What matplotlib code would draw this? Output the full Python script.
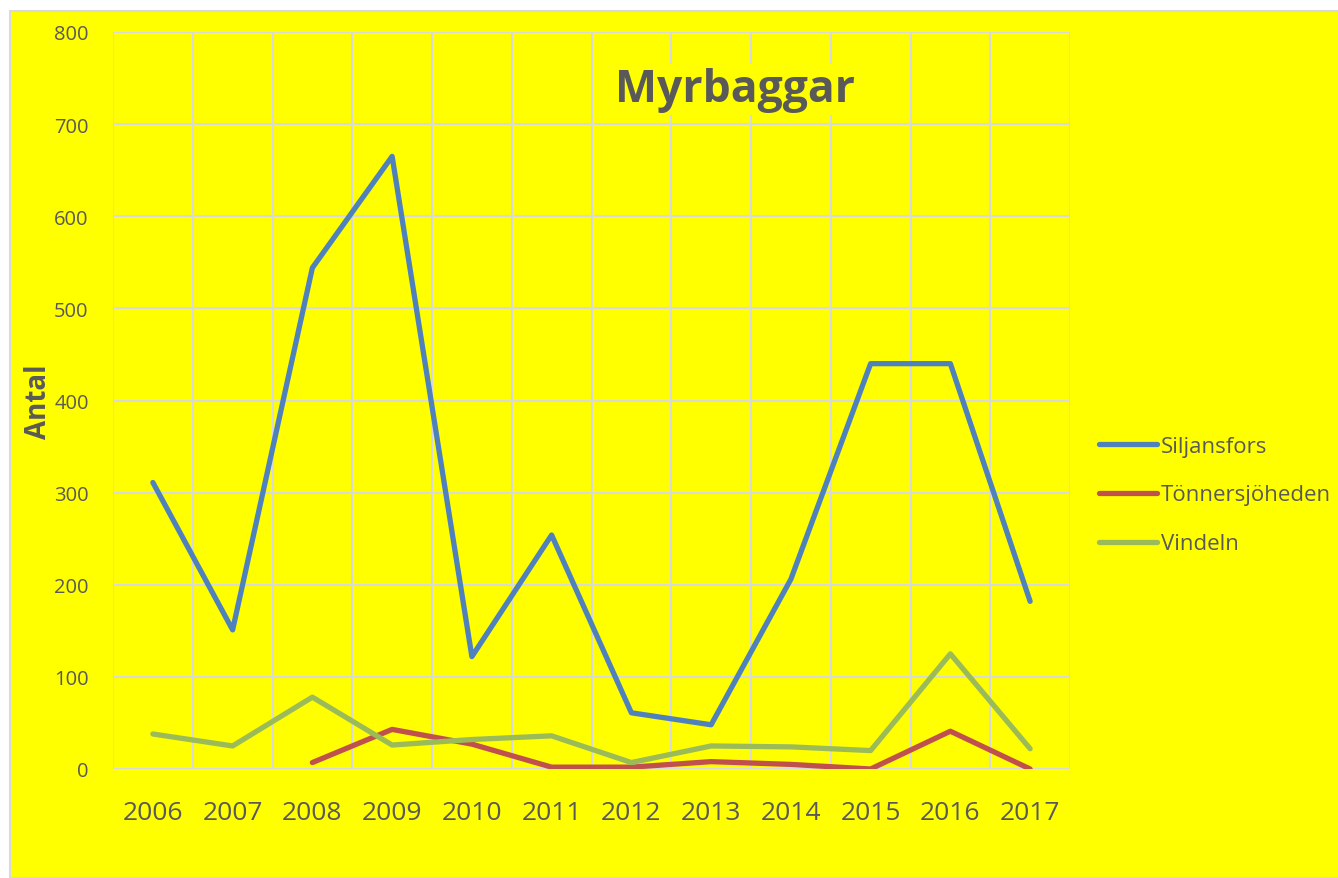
import numpy as np
import matplotlib.pyplot as plt
from matplotlib.patches import Rectangle
from matplotlib.ticker import MultipleLocator, FixedLocator

# Data
years = ["2006", "2007", "2008", "2009", "2010", "2011",
         "2012", "2013", "2014", "2015", "2016", "2017"]
siljansfors = [311, 151, 544, 665, 122, 254, 61, 48, 206, 440, 440, 182]
tonnersjoheden = [np.nan, np.nan, 7, 43, 27, 2, 2, 8, 5, 0, 41, 0]
vindeln = [38, 25, 78, 26, 32, 36, 7, 25, 24, 20, 125, 22]

TEXT = "#595959"
GRID = "#D9D9D9"
YELLOW = "#FFFF00"

plt.rcParams['font.family'] = ['Open Sans', 'DejaVu Sans']

fig = plt.figure(figsize=(13.38, 8.79), dpi=100, facecolor="white")
# yellow chart area with thin grey border
fig.patches.append(Rectangle((10 / 1338, 0), 1.0, 1 - 12 / 879,
                             transform=fig.transFigure, facecolor=YELLOW,
                             edgecolor=GRID, linewidth=1.5, zorder=-10))

ax = fig.add_axes([113 / 1338, 1 - 770 / 879, (1070 - 113) / 1338, (770 - 33) / 879])
ax.set_facecolor(YELLOW)

x = np.arange(len(years))
ax.plot(x, siljansfors, color="#4F81BD", lw=3.8, solid_capstyle="round",
        solid_joinstyle="round", label="Siljansfors", zorder=3)
ax.plot(x, tonnersjoheden, color="#C0504D", lw=3.8, solid_capstyle="round",
        solid_joinstyle="round", label="Tönnersjöheden", zorder=3)
ax.plot(x, vindeln, color="#9BBB59", lw=3.8, solid_capstyle="round",
        solid_joinstyle="round", label="Vindeln", zorder=3)

ax.set_xlim(-0.5, len(years) - 0.5)
ax.set_ylim(0, 800)
ax.yaxis.set_major_locator(MultipleLocator(100))
ax.set_xticks(x)
ax.set_xticklabels(years)
ax.xaxis.set_minor_locator(FixedLocator(np.arange(-0.5, len(years), 1)))

for s in ax.spines.values():
    s.set_visible(False)
ax.grid(axis="y", which="major", color=GRID, lw=1.5)
ax.grid(axis="x", which="minor", color=GRID, lw=1.5)
ax.grid(axis="x", which="major", visible=False)
ax.set_axisbelow(True)
ax.tick_params(which="both", length=0)
ax.tick_params(axis="y", labelsize=14.5, labelcolor=TEXT, pad=17.5)
ax.tick_params(axis="x", labelsize=19, labelcolor=TEXT, pad=22)

ax.set_ylabel("Antal", fontsize=20, fontweight="bold", color=TEXT, va="center")
ax.yaxis.set_label_coords(-0.078, 0.5)

ax.text(0.65, 0.922, "Myrbaggar", transform=ax.transAxes, ha="center", va="center",
        fontsize=32, fontweight="bold", color=TEXT,
        bbox=dict(facecolor=YELLOW, edgecolor="none", pad=2))

leg = fig.legend(loc="center left", bbox_to_anchor=(1079 / 1338, 1 - 496 / 879),
                 frameon=False, fontsize=16, handlelength=2.6, handletextpad=0.2,
                 labelspacing=1.25, labelcolor=TEXT)

fig.savefig("out.png", dpi=100, facecolor=fig.get_facecolor())
